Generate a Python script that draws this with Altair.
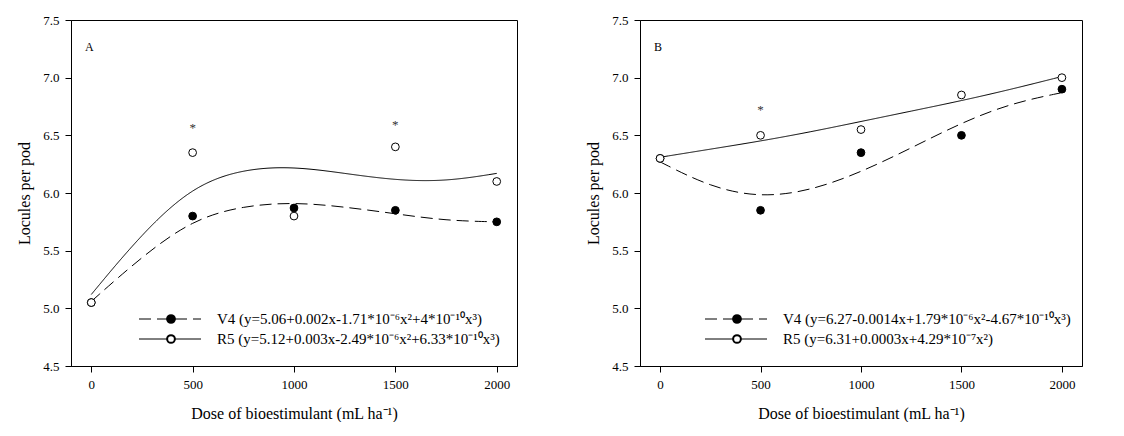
import altair as alt
import pandas as pd

doses = [0, 500, 1000, 1500, 2000]
curve_x = [0, 250, 500, 750, 1000, 1250, 1500, 1750, 2000]

# Painel A
a_v4_pts = [5.05, 5.80, 5.87, 5.85, 5.75]
a_r5_pts = [5.05, 6.35, 5.80, 6.40, 6.10]
a_v4_fit = [5.06, 5.45, 5.77, 5.89, 5.92, 5.88, 5.82, 5.76, 5.75]
a_r5_fit = [5.12, 5.65, 6.06, 6.21, 6.23, 6.17, 6.11, 6.10, 6.17]
a_stars_x = [500, 1500]
a_stars_y = [6.56, 6.59]
a_labels = ["V4 (y=5.06+0.002x-1.71*10⁻⁶x²+4*10⁻¹⁰x³)",
            "R5 (y=5.12+0.003x-2.49*10⁻⁶x²+6.33*10⁻¹⁰x³)"]

# Painel B
b_v4_pts = [6.30, 5.85, 6.35, 6.50, 6.90]
b_r5_pts = [6.30, 6.50, 6.55, 6.85, 7.00]
b_v4_fit = [6.27, 6.05, 5.96, 6.02, 6.18, 6.39, 6.61, 6.78, 6.87]
b_r5_fit = [6.31, 6.38, 6.45, 6.53, 6.62, 6.71, 6.80, 6.90, 7.01]
b_stars_x = [500]
b_stars_y = [6.72]
b_labels = ["V4 (y=6.27-0.0014x+1.79*10⁻⁶x²-4.67*10⁻¹⁰x³)",
            "R5 (y=6.31+0.0003x+4.29*10⁻⁷x²)"]

FONT = "Liberation Serif"


def panel(letter, v4_pts, r5_pts, v4_fit, r5_fit, sx, sy, labels, w, lx):
    xs = alt.Scale(domain=[-100, 2100], nice=False)
    ys = alt.Scale(domain=[4.5, 7.5], nice=False)
    xax = alt.Axis(values=doses, format="d", title="Dose of bioestimulant (mL ha⁻¹)", titlePadding=14)
    yax = alt.Axis(values=[4.5, 5.0, 5.5, 6.0, 6.5, 7.0, 7.5], format=".1f",
                   title="Locules per pod", titlePadding=10)

    fit = pd.DataFrame({"x": curve_x * 2, "y": v4_fit + r5_fit,
                        "s": ["V4"] * 9 + ["R5"] * 9})
    pts = pd.DataFrame({"x": doses * 2, "y": v4_pts + r5_pts,
                        "s": ["V4"] * 5 + ["R5"] * 5})
    stars = pd.DataFrame({"x": sx, "y": sy})

    lines = alt.Chart(fit).mark_line(color="black", strokeWidth=1, interpolate="basis").encode(
        x=alt.X("x:Q", scale=xs, axis=xax),
        y=alt.Y("y:Q", scale=ys, axis=yax),
        detail="s:N",
        strokeDash=alt.StrokeDash("s:N", scale=alt.Scale(domain=["V4", "R5"], range=[[12, 6], [1, 0]]),
                                  legend=None),
    )
    dots = alt.Chart(pts).mark_point(shape="circle", size=60, stroke="black", strokeWidth=1, opacity=1).encode(
        x="x:Q", y="y:Q",
        fill=alt.Fill("s:N", scale=alt.Scale(domain=["V4", "R5"], range=["black", "white"]), legend=None),
    )
    ast = alt.Chart(stars).mark_text(text="*", fontSize=13, font=FONT, color="#333").encode(x="x:Q", y="y:Q")
    tag = alt.Chart(pd.DataFrame({"t": [letter]})).mark_text(
        font=FONT, fontSize=12, align="left").encode(x=alt.value(14), y=alt.value(27), text="t:N")

    leg = []
    for i, (lab, dash, fill) in enumerate(zip(labels, [[12, 6], [1, 0]], ["black", "white"])):
        yy = 299 + i * 20
        src = pd.DataFrame({"t": [lab]})
        leg.append(alt.Chart(src).mark_rule(color="black", strokeWidth=1, strokeDash=dash).encode(
            x=alt.value(lx), x2=alt.value(lx + 62), y=alt.value(yy)))
        leg.append(alt.Chart(src).mark_point(shape="circle", size=60, stroke="black", fill=fill, opacity=1).encode(
            x=alt.value(lx + 32), y=alt.value(yy)))
        leg.append(alt.Chart(src).mark_text(font=FONT, fontSize=15, align="left").encode(
            x=alt.value(lx + 78), y=alt.value(yy), text="t:N"))

    return alt.layer(lines, dots, ast, tag, *leg).properties(width=w, height=346)


left = panel("A", a_v4_pts, a_r5_pts, a_v4_fit, a_r5_fit, a_stars_x, a_stars_y, a_labels, 446, 68)
right = panel("B", b_v4_pts, b_r5_pts, b_v4_fit, b_r5_fit, b_stars_x, b_stars_y, b_labels, 442, 65)

chart = alt.hconcat(left, right, spacing=67).properties(
    padding={"left": 8, "top": 5, "right": 0, "bottom": 0},
    background="white",
).configure_view(stroke="black", strokeWidth=1).configure_axis(
    grid=False, domainColor="black", tickColor="black", labelColor="black", titleColor="black",
    labelFont=FONT, titleFont=FONT, labelFontSize=13, titleFontSize=16, titleFontWeight="normal",
    tickSize=6, labelPadding=6
)

chart.save("out.html", embed_options={"renderer": "svg", "actions": False})
